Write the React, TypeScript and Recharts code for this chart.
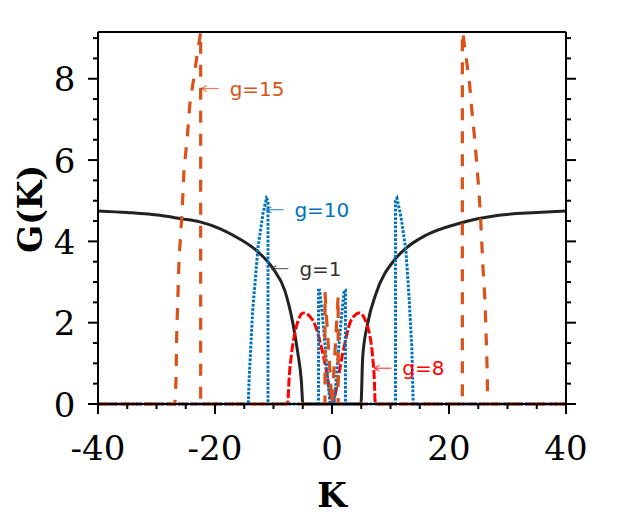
import React from 'react';
import { LineChart, Line, XAxis, YAxis, ReferenceDot } from 'recharts';

// g = 1 (black solid)
const g1K = [-40, -35, -29.4, -25.9, -22.57, -19.1, -16.9, -12.64, -10.08, -8.09, -6.68, -5.83, -5.25, -4.97, 4.95, 5.25, 6.1, 7.53, 10.65, 12.64, 16.05, 21.7, 28.5, 35, 40];
const g1G = [4.75, 4.71, 4.64, 4.56, 4.48, 4.31, 4.15, 3.74, 3.33, 2.8, 1.98, 1.24, 0.59, 0, 0, 1.16, 1.98, 2.72, 3.54, 3.83, 4.15, 4.44, 4.64, 4.71, 4.75];

// g = 8 (red dashed)
const g8K = [-40, -7.6, -7.3, -6.9, -6.1, -4.9, -3.27, -1.84, -0.99, -0.14, 0, 0.3, 1.84, 3.27, 4.68, 6.1, 6.39, 6.95, 7.24, 7.4, 40];
const g8G = [0, 0, 0.7, 1.25, 1.9, 2.24, 2.06, 1.41, 0.84, 0.1, 0, 0.1, 1.25, 2.06, 2.24, 1.9, 1.74, 1.16, 0.59, 0, 0];

// g = 10 (blue dotted)
const g10K = [-40, -14.31, -14.17, -13.59, -12.64, -11.79, -11.2, -10.94, -10.94, -2.3, -2.3, -2.1, -1.67, -1.16, -0.72, -0.33, 0.33, 0.72, 1.16, 1.67, 2.1, 2.3, 2.3, 10.85, 10.85, 11.1, 11.8, 12.64, 13.2, 13.66, 13.88, 40];
const g10G = [0, 0, 0.59, 2.24, 3.86, 4.69, 5.06, 5.0, 0, 0, 2.8, 2.8, 2.23, 1.41, 0.59, 0, 0, 0.59, 1.41, 2.23, 2.8, 2.8, 0, 0, 5.0, 5.06, 4.6, 3.78, 2.56, 1.33, 0, 0];

// g = 15 (orange dashed)
const g15K = [-40, -26.85, -26.66, -26.54, -26.15, -25.86, -25.64, -25.3, -24.74, -24.28, -23.42, -23.03, -22.57, -22.45, -22.45, -1.2, -1.2, 0, 1.05, 1.05, 22.28, 22.28, 22.35, 22.96, 23.54, 23.88, 24.33, 24.67, 25.13, 25.42, 25.8, 26.15, 26.37, 26.54, 26.6, 40];
const g15G = [0, 0, 0.59, 1.74, 3.54, 4.2, 4.69, 5.75, 6.56, 7.4, 8.21, 8.62, 9.03, 9.15, 0, 0, 2.75, 0, 2.65, 0, 0, 9.15, 9.15, 8.49, 7.84, 7.27, 6.61, 6.04, 5.21, 4.5, 3.37, 2.56, 1.57, 0.75, 0, 0];

// axes
const xTicks = [-40, -35, -30, -25, -20, -15, -10, -5, 0, 5, 10, 15, 20, 25, 30, 35, 40];
const xMajor = [-40, -20, 0, 20, 40];
const yTicks = [0, 0.5, 1, 1.5, 2, 2.5, 3, 3.5, 4, 4.5, 5, 5.5, 6, 6.5, 7, 7.5, 8, 8.5, 9];
const yMajor = [0, 2, 4, 6, 8];
const xDomain = [-40, 40];
const yDomain = [0, 9.15];

// annotations
const annotLabels = ['g=15', 'g=10', 'g=1', 'g=8'];
const annotK = [-22.28, -11.21, -10.36, 7.24];
const annotG = [7.76, 4.78, 3.33, 0.88];
const annotColors = ['#D95319', '#0072BD', '#333333', '#FF0000'];

const rows = (ks: number[], gs: number[]) => ks.map((k, i) => ({ k, g: gs[i] }));

const serif = 'DejaVu Serif';

const BottomTick = (props: any) => {
  const { x, y, payload } = props;
  const v = payload.value;
  const major = xMajor.includes(v);
  return (
    <g>
      <line x1={x} x2={x} y1={y} y2={y + (major ? 10 : 5)} stroke="#000" strokeWidth={2} />
      {major && (
        <text x={x} y={y + 56} textAnchor="middle" fontFamily={serif} fontSize={34} fill="#000">
          {String(v)}
        </text>
      )}
    </g>
  );
};

const TopTick = (props: any) => {
  const { x, y, payload } = props;
  const major = xMajor.includes(payload.value);
  return <line x1={x} x2={x} y1={y} y2={y - (major ? 10 : 5)} stroke="#000" strokeWidth={2} />;
};

const LeftTick = (props: any) => {
  const { x, y, payload } = props;
  const v = payload.value;
  const major = yMajor.includes(v);
  return (
    <g>
      <line x1={x - (major ? 10 : 5)} x2={x} y1={y} y2={y} stroke="#000" strokeWidth={2} />
      {major && (
        <text x={x - 22.5} y={y + 12.5} textAnchor="end" fontFamily={serif} fontSize={34} fill="#000">
          {String(v)}
        </text>
      )}
    </g>
  );
};

const RightTick = (props: any) => {
  const { x, y, payload } = props;
  const major = yMajor.includes(payload.value);
  return <line x1={x} x2={x + (major ? 10 : 5)} y1={y} y2={y} stroke="#000" strokeWidth={2} />;
};

const makeAnnot = (label: string, color: string) => (props: any) => {
  const { cx, cy } = props;
  if (cx == null || cy == null) return <g />;
  const len = 17;
  return (
    <g>
      <line x1={cx} y1={cy} x2={cx + len} y2={cy} stroke={color} strokeOpacity={0.75} strokeWidth={1.2} />
      <line x1={cx} y1={cy} x2={cx + 5} y2={cy - 3} stroke={color} strokeOpacity={0.75} strokeWidth={1.2} />
      <line x1={cx} y1={cy} x2={cx + 5} y2={cy + 3} stroke={color} strokeOpacity={0.75} strokeWidth={1.2} />
      <text x={cx + len + 11} y={cy + 7} fontFamily="DejaVu Sans" fontSize={20} fill={color}>
        {label}
      </text>
    </g>
  );
};

export default function App() {
  return (
    <div style={{ position: 'absolute', left: 0, top: 0, width: 620, height: 520, background: '#fff' }}>
      <LineChart width={620} height={520} margin={{ top: 0, right: 0, bottom: 0, left: 0 }}>
        <XAxis
          xAxisId="b"
          dataKey="k"
          type="number"
          domain={xDomain}
          ticks={xTicks}
          interval={0}
          orientation="bottom"
          height={116}
          tickSize={0}
          tickMargin={0}
          tickLine={false}
          tick={BottomTick}
          axisLine={{ stroke: '#000', strokeWidth: 2 }}
        />
        <XAxis
          xAxisId="t"
          type="number"
          domain={xDomain}
          allowDataOverflow
          ticks={xTicks}
          interval={0}
          orientation="top"
          height={32}
          tickSize={0}
          tickMargin={0}
          tickLine={false}
          tick={TopTick}
          axisLine={{ stroke: '#000', strokeWidth: 2 }}
        />
        <YAxis
          yAxisId="l"
          type="number"
          domain={yDomain}
          ticks={yTicks}
          interval={0}
          orientation="left"
          width={98}
          tickSize={0}
          tickMargin={0}
          tickLine={false}
          tick={LeftTick}
          axisLine={{ stroke: '#000', strokeWidth: 2 }}
          label={{
            value: 'G(K)',
            angle: -90,
            position: 'insideLeft',
            offset: 0,
            content: () => (
              <text
                x={42}
                y={209}
                transform="rotate(-90 42 209)"
                textAnchor="middle"
                fontFamily={serif}
                fontWeight="bold"
                fontSize={33}
                fill="#000"
              >
                G(K)
              </text>
            ),
          }}
        />
        <YAxis
          yAxisId="r"
          type="number"
          domain={yDomain}
          allowDataOverflow
          ticks={yTicks}
          interval={0}
          orientation="right"
          width={54}
          tickSize={0}
          tickMargin={0}
          tickLine={false}
          tick={RightTick}
          axisLine={{ stroke: '#000', strokeWidth: 2 }}
        />
        <Line xAxisId="b" yAxisId="l" data={rows(g1K, g1G)} dataKey="g" type="monotone" stroke="#222222" strokeWidth={3} dot={false} activeDot={false} isAnimationActive={false} />
        <Line xAxisId="b" yAxisId="l" data={rows(g8K, g8G)} dataKey="g" type="monotone" stroke="#FF0000" strokeWidth={3} strokeDasharray="9 2.5" dot={false} activeDot={false} isAnimationActive={false} />
        <Line xAxisId="b" yAxisId="l" data={rows(g10K, g10G)} dataKey="g" type="linear" stroke="#0072BD" strokeWidth={3} strokeDasharray="2.7 1.5" dot={false} activeDot={false} isAnimationActive={false} />
        <Line xAxisId="b" yAxisId="l" data={rows(g15K, g15G)} dataKey="g" type="linear" stroke="#D95319" strokeWidth={3.2} strokeDasharray="12 11" dot={false} activeDot={false} isAnimationActive={false} />
        {annotLabels.map((lab, i) => (
          <ReferenceDot
            key={lab}
            xAxisId="b"
            yAxisId="l"
            x={annotK[i]}
            y={annotG[i]}
            r={0}
            ifOverflow="visible"
            shape={makeAnnot(lab, annotColors[i])}
          />
        ))}
        <text x={332} y={507} textAnchor="middle" fontFamily={serif} fontWeight="bold" fontSize={34} fill="#000">
          K
        </text>
      </LineChart>
    </div>
  );
}
